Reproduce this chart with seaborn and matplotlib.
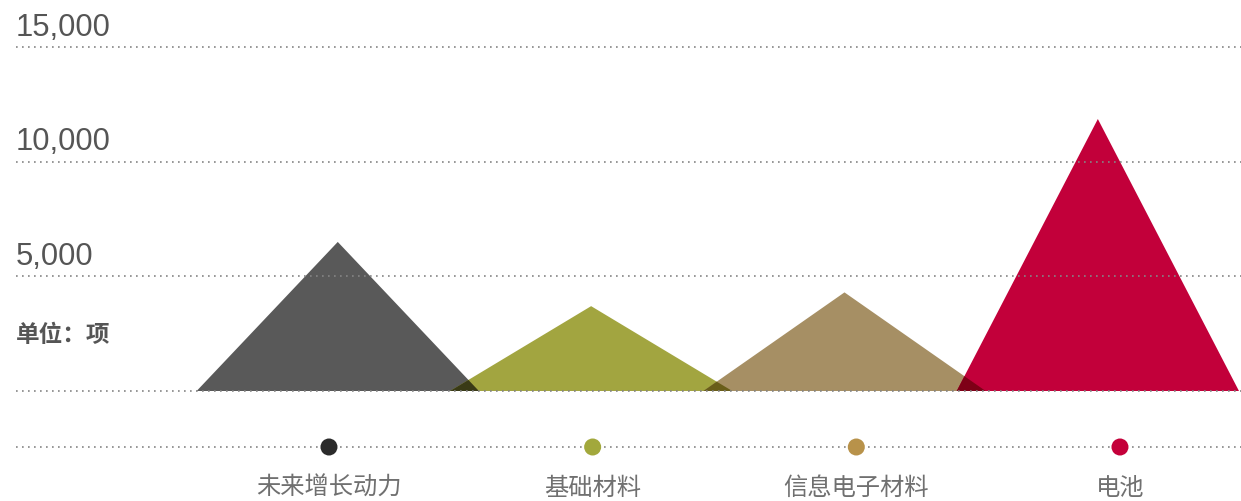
import numpy as np
import matplotlib
matplotlib.use("Agg")
import matplotlib.pyplot as plt
import matplotlib.transforms as mtransforms
import seaborn as sns
import pandas as pd

categories = ["未来增长动力", "基础材料", "信息电子材料", "电池"]
values = [6500, 3700, 4300, 11860]
tri_colors = ["#595959", "#A2A540", "#A68F64", "#C2003A"]
dot_colors = ["#2B2B2B", "#A2A83C", "#B8924A", "#C4003A"]
y_ticks = [0, 5000, 10000, 15000]
y_ticklabels = ["", "5,000", "10,000", "15,000"]
unit_label = "单位：项"

sns.set_theme(style="white")
plt.rcParams["font.family"] = ["Noto Sans CJK SC", "DejaVu Sans"]

W, H = 1241, 501
fig = plt.figure(figsize=(W / 100, H / 100), dpi=100)
fig.patch.set_facecolor("white")

grid_kw = dict(color="#858585", linewidth=1.2, linestyle=(0, (1, 2.6)))

# main area with the triangles
ax = fig.add_axes([16 / W, (H - 391) / H, 1225 / W, 344 / H])
ax.set_xlim(-1.27, 3.565)
ax.set_ylim(0, 15000)
for s in ax.spines.values():
    s.set_visible(False)
ax.set_xticks([])
ax.set_yticks([])

half = 0.557
xs = np.arange(len(categories))
for i, (v, c) in enumerate(zip(values, tri_colors)):
    ax.fill([xs[i] - half, xs[i], xs[i] + half], [0, v, 0], color=c, lw=0, zorder=1)

# darker overlap of neighbouring triangles (multiply look)
def hex_rgb(h):
    return np.array([int(h[k:k + 2], 16) / 255 for k in (1, 3, 5)])

for i in range(len(categories) - 1):
    r0 = xs[i] + half
    l1 = xs[i + 1] - half
    if l1 < r0:
        s_a = -values[i] / half
        s_b = values[i + 1] / half
        xi = (s_a * r0 - s_b * l1) / (s_a - s_b)
        yi = s_a * (xi - r0)
        col = hex_rgb(tri_colors[i]) * hex_rgb(tri_colors[i + 1])
        ax.fill([l1, xi, r0], [0, yi, 0], color=col, lw=0, zorder=1.5)

for t in y_ticks:
    ax.axhline(t, zorder=3, clip_on=False, **grid_kw)

lbl_tr = mtransforms.blended_transform_factory(ax.transAxes, ax.transData)
for t, lab in zip(y_ticks, y_ticklabels):
    if lab:
        ax.annotate(lab, xy=(0, t), xycoords=lbl_tr, xytext=(0, 3), textcoords="offset points",
                    ha="left", va="bottom", fontsize=22.3, color="#555555",
                    family=["Liberation Sans", "DejaVu Sans"])

ax.text(0, 2440, unit_label, transform=lbl_tr, ha="left", va="center",
        fontsize=17, fontweight="bold", color="#555555")

# bottom category line with dots
ax2 = fig.add_axes([16 / W, (H - 457) / H, 1225 / W, 20 / H])
ax2.set_xlim(-1.187, 3.459)
ax2.set_ylim(-1, 1)
for s in ax2.spines.values():
    s.set_visible(False)
ax2.patch.set_alpha(0)
ax2.axhline(0, zorder=1, **grid_kw)
dots = pd.DataFrame({"x": xs, "y": np.zeros(len(xs)), "cat": categories})
sns.scatterplot(data=dots, x="x", y="y", hue="cat", palette=dot_colors, s=150,
                linewidth=0, legend=False, ax=ax2, zorder=3, clip_on=False)
ax2.set_xticks([])
ax2.set_yticks([])
ax2.set_xlabel("")
ax2.set_ylabel("")
for i, cat in enumerate(categories):
    ax2.annotate(cat, xy=(xs[i], 0), xytext=(0, -29.5), textcoords="offset points",
                 ha="center", va="center", fontsize=17.5, color="#707070")

fig.savefig("out.png", dpi=100, facecolor="white")
